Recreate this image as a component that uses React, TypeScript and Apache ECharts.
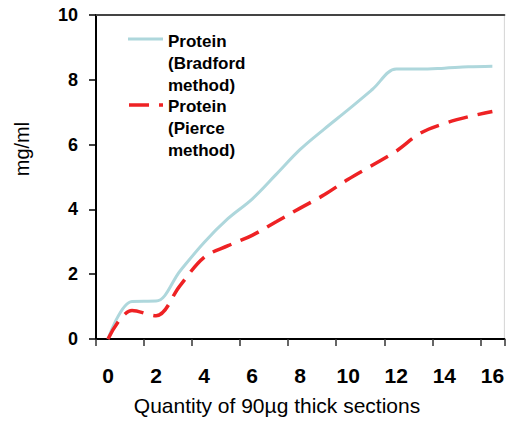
import React, { useEffect, useRef } from "react";
import * as echarts from "echarts";

const categories = ["0","1","2","3","4","5","6","7","8","9","10","11","12","13","14","15","16"];
const bradford = [0, 1.16, 1.17, 2.1, 2.98, 3.72, 4.32, 5.08, 5.85, 6.48, 7.08, 7.7, 8.33, 8.33, 8.36, 8.4, 8.42];
const pierce = [0, 0.88, 0.72, 1.65, 2.52, 2.88, 3.2, 3.62, 4.04, 4.45, 4.93, 5.36, 5.8, 6.35, 6.65, 6.86, 7.02];
const seriesNames = ["Protein (Bradford method)", "Protein (Pierce method)"];
const legendLabels = ["Protein\n(Bradford\nmethod)", "Protein\n(Pierce\nmethod)"];
const xTitle = "Quantity of 90µg thick sections";
const yTitle = "mg/ml";

const FONT = 'Arial, "Liberation Sans", Helvetica, sans-serif';
const BLUE = "#aed7dc";
const RED = "#ee2224";

export default function App() {
  const ref = useRef<HTMLDivElement>(null);
  useEffect(() => {
    if (!ref.current) return;
    const chart = echarts.init(ref.current, undefined, { renderer: "svg" });
    chart.setOption({
      animation: false,
      backgroundColor: "#ffffff",
      grid: {
        left: 96,
        top: 15,
        right: 1,
        bottom: 84,
        show: true,
        borderColor: "#d4d4d4",
        borderWidth: 1,
        backgroundColor: "transparent",
      },
      xAxis: [
        {
          type: "category",
          data: categories,
          boundaryGap: true,
          position: "bottom",
          axisLine: { show: true, lineStyle: { color: "#000", width: 2 } },
          axisTick: { show: true, interval: 1, length: 7, inside: false, lineStyle: { color: "#333", width: 1.5 } },
          axisLabel: {
            interval: 1,
            margin: 26,
            color: "#000",
            fontFamily: FONT,
            fontWeight: "bold",
            fontSize: 21,
          },
          splitLine: { show: false },
        },
        {
          type: "category",
          data: categories,
          position: "top",
          axisLine: { show: true, lineStyle: { color: "#444", width: 2 } },
          axisTick: { show: false },
          axisLabel: { show: false },
          splitLine: { show: false },
        },
      ],
      yAxis: {
        type: "value",
        min: 0,
        max: 10,
        interval: 2,
        axisLine: { show: true, lineStyle: { color: "#000", width: 2 } },
        axisTick: { show: true, length: 7, lineStyle: { color: "#000", width: 1.5 } },
        axisLabel: {
          margin: 18,
          color: "#000",
          fontFamily: FONT,
          fontWeight: "bold",
          fontSize: 18,
        },
        splitLine: { show: false },
      },
      series: [
        {
          name: seriesNames[0],
          type: "line",
          data: bradford,
          smooth: 0.35,
          showSymbol: false,
          symbol: "none",
          lineStyle: { color: BLUE, width: 3 },
          itemStyle: { color: BLUE },
        },
        {
          name: seriesNames[1],
          type: "line",
          data: pierce,
          smooth: 0.35,
          showSymbol: false,
          symbol: "none",
          lineStyle: { color: RED, width: 3.5, type: [20, 10] },
          itemStyle: { color: RED },
        },
      ],
      graphic: [
        {
          type: "line",
          shape: { x1: 128, y1: 39, x2: 163, y2: 39 },
          style: { stroke: BLUE, lineWidth: 3 },
        },
        {
          type: "text",
          x: 168,
          y: 30,
          style: {
            text: legendLabels[0],
            font: `bold 17px ${FONT}`,
            fill: "#000",
            lineHeight: 22,
            align: "left",
            verticalAlign: "top",
          },
        },
        {
          type: "line",
          shape: { x1: 129, y1: 105, x2: 163, y2: 105 },
          style: { stroke: RED, lineWidth: 3.5, lineDash: [20, 10] },
        },
        {
          type: "text",
          x: 168,
          y: 95,
          style: {
            text: legendLabels[1],
            font: `bold 17px ${FONT}`,
            fill: "#000",
            lineHeight: 22,
            align: "left",
            verticalAlign: "top",
          },
        },
        {
          type: "text",
          x: 277,
          y: 405,
          style: {
            text: xTitle,
            font: `21px ${FONT}`,
            fill: "#000",
            align: "center",
            verticalAlign: "middle",
          },
        },
        {
          type: "text",
          x: 22,
          y: 149,
          rotation: Math.PI / 2,
          style: {
            text: yTitle,
            font: `20px ${FONT}`,
            fill: "#000",
            align: "center",
            verticalAlign: "middle",
          },
        },
      ],
    });
    return () => chart.dispose();
  }, []);
  return (
    <div
      ref={ref}
      style={{ position: "fixed", left: 0, top: 0, width: 507, height: 423, background: "#fff" }}
    />
  );
}
